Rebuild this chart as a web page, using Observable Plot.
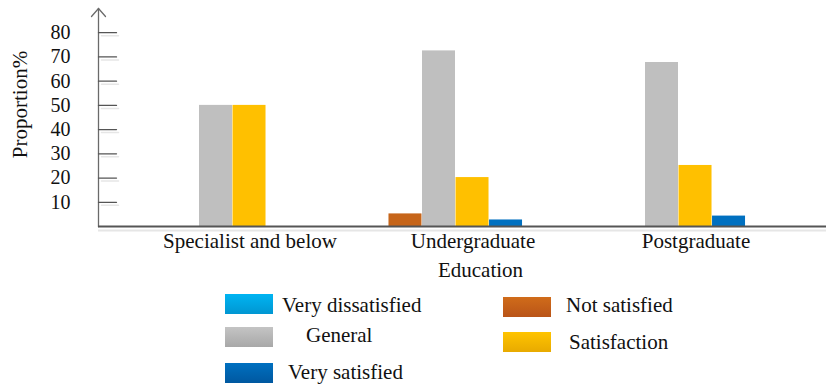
<!DOCTYPE html>
<html><head><meta charset="utf-8">
<script src="https://cdn.jsdelivr.net/npm/d3@7"></script>
<script src="https://cdn.jsdelivr.net/npm/@observablehq/plot@0.6"></script>
<style>
body{margin:0;background:#fff;font-family:"Liberation Serif","Times New Roman",serif;color:#111;}
#legend{position:relative;width:826px;height:105px;}
.sw{position:absolute;width:48px;height:20px;}
.lt{position:absolute;font-size:21px;line-height:24px;white-space:nowrap;color:#111;}
</style>
</head><body>
<div id="chart"></div>
<div id="legend"></div>
<script>
// ---- data ----
const categories = ["Specialist and below", "Undergraduate", "Postgraduate"];
const series = ["Very dissatisfied", "Not satisfied", "General", "Satisfaction", "Very satisfied"];
const veryDissatisfied = [0, 0, 0];
const notSatisfied = [0, 5.2, 0];
const general = [50, 72.5, 67.7];
const satisfaction = [50, 20.2, 25.2];
const verySatisfied = [0, 2.7, 4.3];
const yTicks = [10, 20, 30, 40, 50, 60, 70, 80];
const yLabel = "Proportion%";
const xLabel = "Education";

// ---- styles ----
const colors = ["#00B0F0", "#C6651A", "#BFBFBF", "#FFC000", "#0070C0"];
const gradients = [
  ["#00B4F2", "#0096D2"],
  ["#D06C1A", "#B95418"],
  ["#C4C4C4", "#A8A8A8"],
  ["#FFC400", "#E8AA00"],
  ["#0070C0", "#0058A0"]
];
const seriesValues = [veryDissatisfied, notSatisfied, general, satisfaction, verySatisfied];
const rows = series.flatMap((s, i) => categories.map((c, j) => ({category: c, series: s, value: seriesValues[i][j]})))
  .filter(d => d.value > 0);

const W = 826, H = 282, ML = 98, MR = 0, MT = 8, MB = 56;
const font = '"Liberation Serif","Times New Roman",serif';
const xOpts = {type: "band", domain: categories, paddingInner: 0.85, paddingOuter: 0.554, align: 0.407};
const xs = Plot.scale({x: {...xOpts, range: [ML, W - MR]}});
const bw = xs.bandwidth;

const tickShape = {draw(ctx, l) { ctx.moveTo(0, 0); ctx.lineTo(l, 0); }};
const chevron = {draw(ctx) { ctx.moveTo(-7, 8); ctx.lineTo(0, 0); ctx.lineTo(7, 8); }};

const chart = Plot.plot({
  width: W, height: H,
  marginLeft: ML, marginRight: MR, marginTop: MT, marginBottom: MB,
  style: {fontFamily: font, fontSize: "21px", color: "#111", background: "#fff"},
  x: xOpts,
  y: {domain: [0, 90]},
  marks: [
    ...series.map((s, i) => Plot.barY(rows.filter(d => d.series === s), {
      x: "category", y: "value", fill: colors[i], dx: (i - 2) * bw
    })),
    // faint shadows
    Plot.vector(yTicks, {y: d => d, frameAnchor: "left", length: 17, anchor: "start", shape: tickShape, stroke: "#e6e6e6", strokeWidth: 1.5, dx: 3, dy: 3}),
    Plot.ruleY([0], {stroke: "#e6e6e6", strokeWidth: 2, dy: 4}),
    // y axis line, arrow and ticks
    Plot.frame({anchor: "left", stroke: "#6a6a6a", strokeWidth: 1.3}),
    Plot.vector([90], {y: d => d, frameAnchor: "left", shape: chevron, anchor: "start", stroke: "#6a6a6a", strokeWidth: 1.3}),
    Plot.vector(yTicks, {y: d => d, frameAnchor: "left", length: 18, anchor: "start", shape: tickShape, stroke: "#555", strokeWidth: 1.3}),
    Plot.ruleY([0], {stroke: "#555", strokeWidth: 2}),
    Plot.axisY({ticks: yTicks, tickSize: 0, tickPadding: 28, label: null, fontSize: 20, fill: "#111"}),
    Plot.axisX({tickSize: 0, tickPadding: 7, label: null, fontSize: 21, dx: 34, fill: "#111"}),
    Plot.text([xLabel], {text: d => d, frameAnchor: "bottom", dy: 44, dx: 18, fontSize: 21, fill: "#111", lineAnchor: "middle", textAnchor: "middle"}),
    Plot.text([yLabel], {text: d => d, frameAnchor: "left", rotate: -90, dx: -78, dy: -13, fontSize: 21, fill: "#111", lineAnchor: "middle", textAnchor: "middle"})
  ]
});
document.getElementById("chart").appendChild(chart);

// ---- legend ----
const legendLayout = {
  "Very dissatisfied": {sx: 225, sy: 12, tx: 282, ty: 11},
  "Not satisfied":     {sx: 503, sy: 15, tx: 566, ty: 11},
  "General":           {sx: 225, sy: 45, tx: 306, ty: 41},
  "Satisfaction":      {sx: 503, sy: 50, tx: 569, ty: 48},
  "Very satisfied":    {sx: 225, sy: 81, tx: 288, ty: 78}
};
const legend = document.getElementById("legend");
series.forEach((s, i) => {
  const L = legendLayout[s];
  const sw = document.createElement("div");
  sw.className = "sw";
  sw.style.left = L.sx + "px"; sw.style.top = L.sy + "px";
  sw.style.background = `linear-gradient(to bottom, ${gradients[i][0]}, ${gradients[i][1]})`;
  legend.appendChild(sw);
  const t = document.createElement("div");
  t.className = "lt";
  t.style.left = L.tx + "px"; t.style.top = L.ty + "px";
  t.textContent = s;
  legend.appendChild(t);
});
</script>
</body></html>
